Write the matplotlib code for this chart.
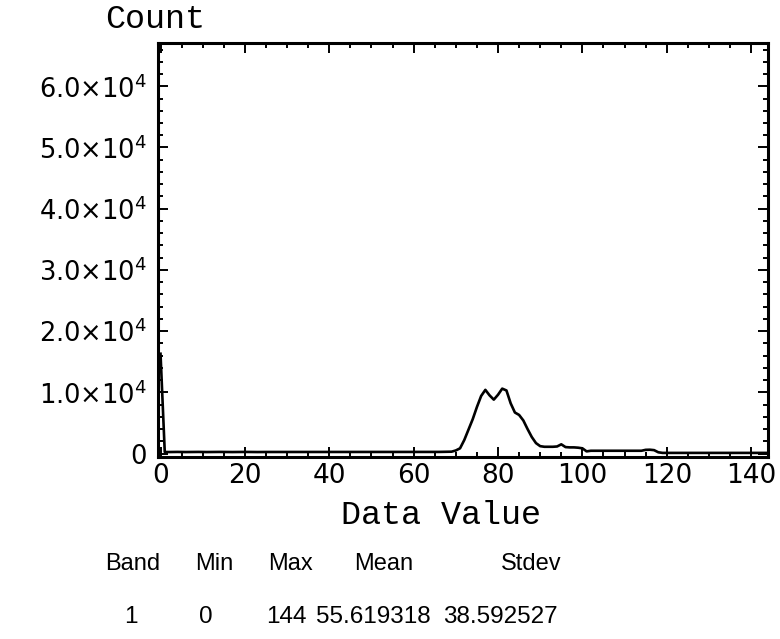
import matplotlib
matplotlib.use("Agg")
import matplotlib.pyplot as plt
from matplotlib.ticker import MultipleLocator, FixedLocator

# histogram counts for data values 0..144
values = list(range(145))
counts = [
    16300, 250, 240, 250, 260, 250, 240, 250, 250, 260,   # 0-9
    250, 240, 250, 250, 260, 250, 250, 240, 250, 250,     # 10-19
    260, 250, 250, 240, 250, 250, 250, 260, 250, 240,     # 20-29
    250, 250, 250, 260, 250, 240, 250, 250, 250, 260,     # 30-39
    250, 250, 240, 250, 250, 260, 250, 250, 240, 250,     # 40-49
    250, 260, 250, 250, 240, 250, 250, 260, 250, 250,     # 50-59
    240, 250, 260, 250, 250, 250, 260, 270, 280, 300,     # 60-69
    500, 850, 2200, 3900, 5600, 7600, 9400, 10400, 9500, 8800,   # 70-79
    9600, 10600, 10300, 8200, 6700, 6300, 5400, 4000, 2700, 1700,  # 80-89
    1200, 1100, 1100, 1100, 1150, 1500, 1050, 1000, 1000, 950,     # 90-99
    850, 350, 450, 450, 460, 450, 440, 450, 450, 460,   # 100-109
    450, 450, 440, 450, 450, 600, 620, 550, 200, 100,   # 110-119
    100, 100, 100, 100, 100, 100, 100, 100, 100, 100,   # 120-129
    100, 100, 100, 100, 100, 100, 100, 100, 100, 100,   # 130-139
    100, 100, 100, 100, 100,                            # 140-144
]

x_ticks = [0, 20, 40, 60, 80, 100, 120, 140]
y_ticks = [0, 10000, 20000, 30000, 40000, 50000, 60000]
y_labels = ["0", r"1.0$\times$10$^{4}$", r"2.0$\times$10$^{4}$", r"3.0$\times$10$^{4}$",
            r"4.0$\times$10$^{4}$", r"5.0$\times$10$^{4}$", r"6.0$\times$10$^{4}$"]

# summary table under the plot
stat_names = ["Band", "Min", "Max", "Mean", "Stdev"]
stat_values = ["1", "0", "144", "55.619318", "38.592527"]

plt.rcParams["mathtext.fontset"] = "dejavusans"

fig = plt.figure(figsize=(7.8, 6.39), dpi=100)
ax = fig.add_axes([158 / 780, 1 - 457 / 639, (768 - 158) / 780, (457 - 43) / 639])

ax.plot(values, counts, color="black", lw=1.9, zorder=3)

ax.set_xlim(-0.6, 144)
ax.set_ylim(-570, 67070)

ax.xaxis.set_major_locator(FixedLocator(x_ticks))
ax.xaxis.set_minor_locator(MultipleLocator(5))
ax.yaxis.set_major_locator(FixedLocator(y_ticks))
ax.yaxis.set_minor_locator(MultipleLocator(2000))
ax.set_xticklabels([str(t) for t in x_ticks])
ax.set_yticklabels(y_labels)

ax.tick_params(which="both", direction="in", top=True, right=True, width=1.4, color="black")
ax.tick_params(which="major", length=7.5)
ax.tick_params(which="minor", length=3.5)
ax.tick_params(axis="x", which="major", pad=4, labelsize=19)
ax.tick_params(axis="y", which="major", pad=8, labelsize=18.5)
for lab in ax.get_xticklabels() + ax.get_yticklabels():
    lab.set_fontfamily("DejaVu Sans")

for sp in ax.spines.values():
    sp.set_linewidth(2.2)

fig.text(155 / 780, 1 - 20 / 639, "Count", ha="center", va="center",
         family="Liberation Mono", fontsize=24)
fig.text(441 / 780, 1 - 516 / 639, "Data Value", ha="center", va="center",
         family="Liberation Mono", fontsize=24)

name_x = [133, 214, 290, 384, 531]
value_x = [131, 206, 286, 373, 500]
for nx, name in zip(name_x, stat_names):
    fig.text(nx / 780, 1 - 564 / 639, name, ha="center", va="center",
             family="Liberation Sans", fontsize=17)
for vx, val in zip(value_x, stat_values):
    fig.text(vx / 780, 1 - 617 / 639, val, ha="center", va="center",
             family="Liberation Sans", fontsize=17.5)

fig.savefig("out.png", dpi=100)
